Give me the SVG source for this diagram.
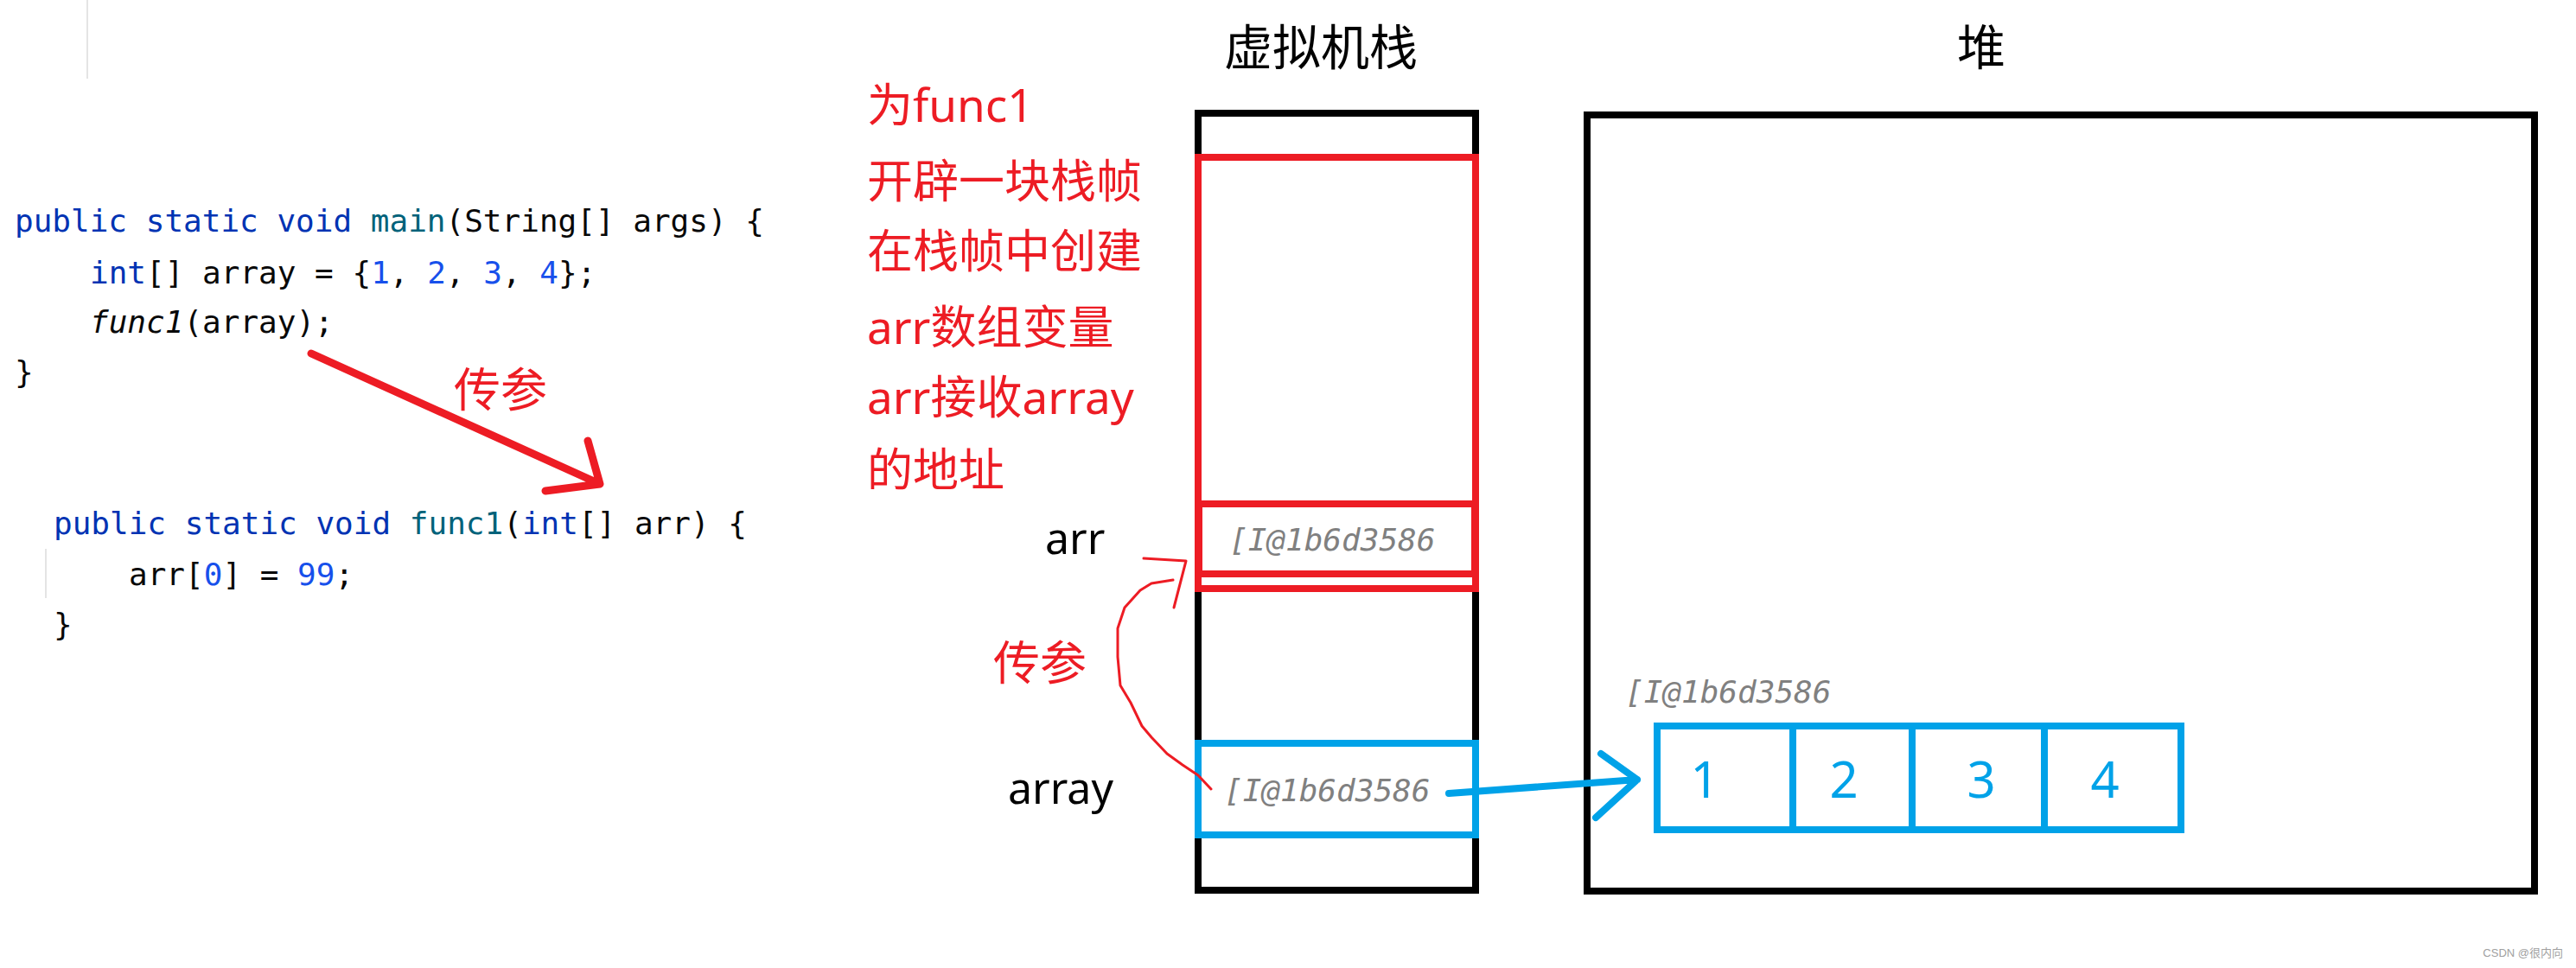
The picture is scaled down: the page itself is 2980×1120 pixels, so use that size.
<svg xmlns="http://www.w3.org/2000/svg" width="2980" height="1120" viewBox="0 0 2980 1120">
<style>
.code{font-family:'DejaVu Sans Mono','Liberation Mono',monospace;font-size:36px;fill:#080808}
.kw{fill:#0033b3}
.fn{fill:#00627a}
.num{fill:#1750eb}
.it{font-style:italic}
.addr{font-family:'DejaVu Sans Mono','Liberation Mono',monospace;font-size:36px;font-style:italic;fill:#808080}
.red{font-family:'Noto Sans','Noto Sans CJK SC',sans-serif;font-size:53px;fill:#ed1c24}
.blk{font-family:'Noto Sans','Noto Sans CJK SC',sans-serif;font-size:50px;fill:#000}
.title{font-family:'Noto Sans','Noto Sans CJK SC',sans-serif;font-size:56px;fill:#000}
.digit{font-family:'Noto Sans','Noto Sans CJK SC',sans-serif;font-size:58px;fill:#00a2e8;text-anchor:middle}
.box{fill:none;stroke-width:8}
</style>
<rect width="2980" height="1120" fill="#ffffff"/>
<g id="code">
<line x1="101" y1="0" x2="101" y2="91" stroke="#e4e4e4" stroke-width="2"/>
<line x1="53" y1="635" x2="53" y2="692" stroke="#e4e4e4" stroke-width="2"/>
<text class="code" x="17" y="268" xml:space="preserve"><tspan class="kw">public static void </tspan><tspan class="fn">main</tspan>(String[] args) {</text>
<text class="code" x="104" y="328" xml:space="preserve"><tspan class="kw">int</tspan>[] array = {<tspan class="num">1</tspan>, <tspan class="num">2</tspan>, <tspan class="num">3</tspan>, <tspan class="num">4</tspan>};</text>
<text class="code" x="104" y="385" xml:space="preserve"><tspan class="it">func1</tspan>(array);</text>
<text class="code" x="17" y="443">}</text>
<text class="code" x="62" y="618" xml:space="preserve"><tspan class="kw">public static void </tspan><tspan class="fn">func1</tspan>(<tspan class="kw">int</tspan>[] arr) {</text>
<text class="code" x="149" y="677" xml:space="preserve">arr[<tspan class="num">0</tspan>] = <tspan class="num">99</tspan>;</text>
<text class="code" x="62" y="735">}</text>
</g>
<g id="note">
<text class="red" x="1003" y="141">为func1</text>
<text class="red" x="1003" y="229">开辟一块栈帧</text>
<text class="red" x="1003" y="310">在栈帧中创建</text>
<text class="red" x="1003" y="398">arr数组变量</text>
<text class="red" x="1003" y="479">arr接收array</text>
<text class="red" x="1003" y="563">的地址</text>
</g>
<g id="stack">
<text class="title" x="1416" y="75">虚拟机栈</text>
<rect class="box" x="1386" y="131" width="321" height="899" stroke="#000"/>
<rect class="box" x="1386" y="182" width="321" height="499" stroke="#ed1c24"/>
<rect class="box" x="1387" y="583" width="319" height="81" stroke="#ed1c24"/>
<rect class="box" x="1386" y="860" width="321" height="106" stroke="#00a2e8"/>
<text class="addr" x="1422" y="637">[I@1b6d3586</text>
<text class="addr" x="1416" y="927">[I@1b6d3586</text>
<text class="blk" x="1209" y="641">arr</text>
<text class="blk" x="1166" y="930">array</text>
</g>
<g id="heap">
<text class="title" x="2292" y="75" text-anchor="middle">堆</text>
<rect class="box" x="1836" y="133" width="1096" height="898" stroke="#000"/>
<text class="addr" x="1880" y="813">[I@1b6d3586</text>
<rect class="box" x="1917" y="840" width="606" height="120" stroke="#00a2e8"/>
<line x1="2074" y1="836" x2="2074" y2="964" stroke="#00a2e8" stroke-width="8"/>
<line x1="2212" y1="836" x2="2212" y2="964" stroke="#00a2e8" stroke-width="8"/>
<line x1="2365" y1="836" x2="2365" y2="964" stroke="#00a2e8" stroke-width="8"/>
<text class="digit" x="1972" y="923">1</text>
<text class="digit" x="2133" y="923">2</text>
<text class="digit" x="2292" y="923">3</text>
<text class="digit" x="2435" y="923">4</text>
</g>
<g id="connectors" fill="none" stroke-linecap="round" stroke-linejoin="round">
<path d="M360,409 L694,560 M680,510 L694,560 L631,568" stroke="#ed1c24" stroke-width="9"/>
<text class="red" x="525" y="471" style="font-size:54px" stroke="none">传参</text>
<polyline points="1401,913 1386,897 1368,885 1350,872 1332,853 1321,840 1308,813 1296,793 1293,760 1293,727 1301,703 1319,683 1332,675 1357,671" stroke="#ed1c24" stroke-width="3"/>
<polyline points="1323,646 1372,649 1358,703" stroke="#ed1c24" stroke-width="3"/>
<text class="red" x="1149" y="787" style="font-size:54px" stroke="none">传参</text>
<path d="M1676,918 L1894,902 M1852,872 L1894,902 L1846,946" stroke="#00a2e8" stroke-width="8"/>
</g>
<text x="2965" y="1107" text-anchor="end" font-family="'Liberation Sans','Noto Sans CJK SC',sans-serif" font-size="13" fill="#a0a0a0">CSDN @很内向</text>
</svg>
